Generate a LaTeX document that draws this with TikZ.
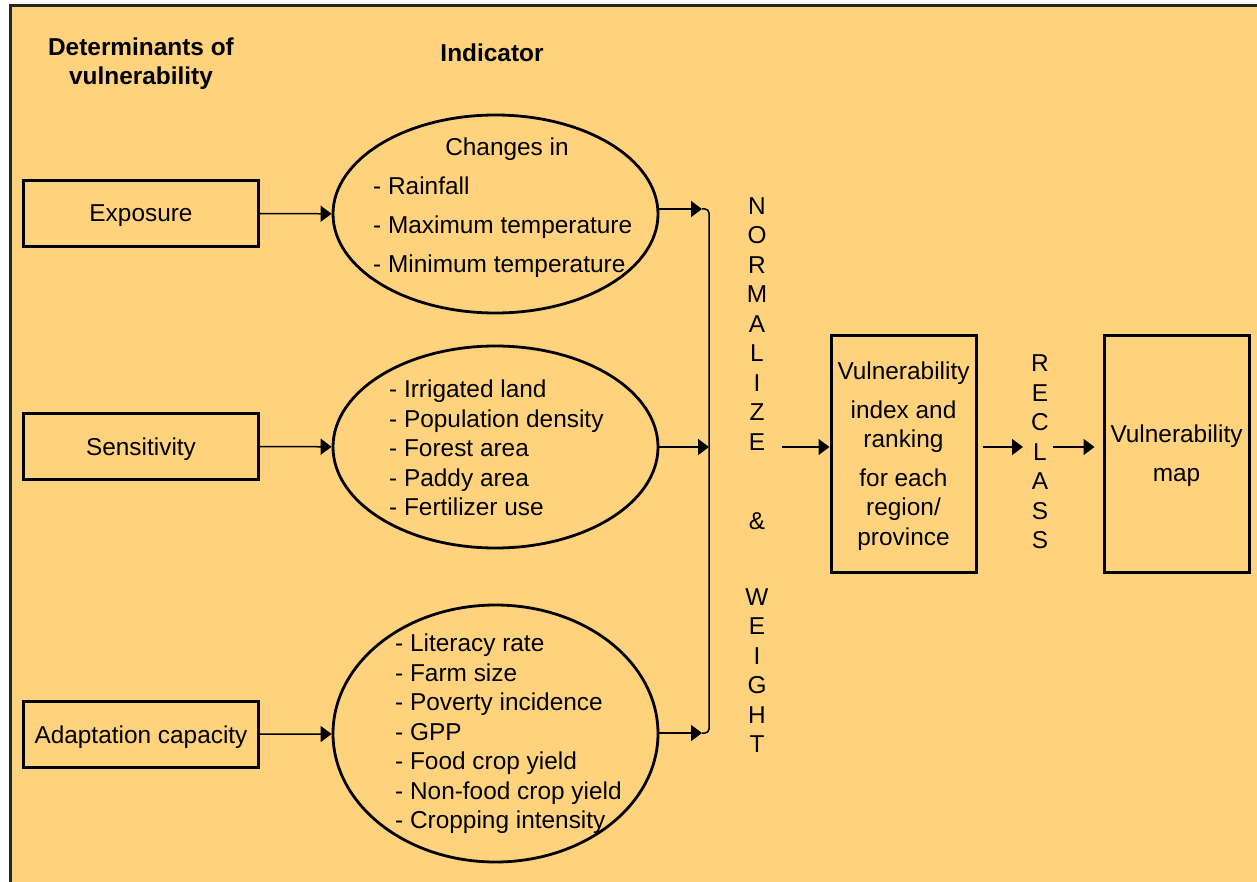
\documentclass[tikz,border=0pt]{standalone}
\usepackage{fontspec}
\setmainfont{Liberation Sans}
\usetikzlibrary{arrows.meta, shapes.geometric}

\definecolor{panel}{RGB}{255,211,125}
\newcommand{\diagfont}{\fontsize{24.4}{29.5}\selectfont}
\newcommand{\widefont}{\fontsize{24.4}{39}\selectfont}

\begin{document}
\begin{tikzpicture}[
    x=1pt, y=-1pt,
    font=\diagfont,
    >={Triangle[length=11pt,width=16pt]},
    determinant/.style={rectangle,draw,line width=3pt,minimum width=235pt,minimum height=66pt,inner sep=0pt,text depth=0pt},
    indicator/.style={ellipse,draw,line width=2.8pt,minimum width=325pt,inner sep=0pt},
    stage/.style={rectangle,draw,line width=3pt,minimum width=145pt,minimum height=237pt,align=center,inner sep=0pt,text depth=0pt},
    invisible/.style={rectangle,inner sep=0pt},
    flow/.style={->,line width=1.5pt}]

        \useasboundingbox (0,0) rectangle (1257,882);
        \draw[line width=3pt, draw=black!85, fill=panel] (10,6) rectangle (1280,900);

        \node[invisible, align=center, font=\diagfont\bfseries, anchor=base] (detlabel) at (141,85)
            {Determinants of\\vulnerability};

        \node[invisible, font=\diagfont\bfseries, anchor=base] (indlabel) at (492,62)
            {Indicator};

        \node[determinant] (expo) at (141,213.5) {Exposure};
        \node[determinant] (sens) at (141,446.5) {Sensitivity};
        \node[determinant] (adap) at (141,734.5) {Adaptation capacity};

        \node[indicator, minimum height=198pt] (ind1) at (495.5,214) {};
        \node[indicator, minimum height=202pt] (ind2) at (495.5,447) {};
        \node[indicator, minimum height=257pt] (ind3) at (495.5,733.5) {};

        \node[invisible, anchor=base] (changes) at (507,155.5) {Changes in};

        \node[invisible, anchor=base west, align=left, font=\widefont] (ind1list) at (373,272.7)
            {- Rainfall\\- Maximum temperature\\- Minimum temperature};

        \node[invisible, anchor=base west, align=left] (ind2list) at (389,515.7)
            {- Irrigated land\\- Population density\\- Forest area\\- Paddy area\\- Fertilizer use};

        \node[invisible, anchor=base west, align=left] (ind3list) at (395,828.7)
            {- Literacy rate\\- Farm size\\- Poverty incidence\\- GPP\\- Food crop yield\\- Non-food crop yield\\- Cropping intensity};

        \node[invisible, anchor=base, align=center] (normw) at (757,752.7)
            {N\\O\\R\\M\\A\\L\\I\\Z\\E\\[49.5pt]\&\\[46.5pt]W\\E\\I\\G\\H\\T};

        \node[stage] (vidx) at (903.5,453.5)
            {Vulnerability\\[9pt]index and\\ranking\\[9pt]for each\\region/\\province};

        \node[invisible, anchor=base, align=center] (reclass) at (1040,548.7)
            {R\\E\\C\\L\\A\\S\\S};

        \node[stage, font=\widefont] (vmap) at (1176.5,453.5)
            {Vulnerability\\map};

        \draw[flow] (expo) -- (ind1);
        \draw[flow] (sens) -- (ind2);
        \draw[flow] (adap) -- (ind3);

        \coordinate (bus1) at (702,209);
        \coordinate (bus2) at (709,447);
        \coordinate (bus3) at (702,733);
        \coordinate (flowrow) at (0,447);

        \draw[line width=1.5pt, rounded corners=4pt] (bus1) -| (bus2) |- (bus3);
        \draw[flow] (ind1.east |- bus1) -- (bus1);
        \draw[flow] (ind2) -- (bus2);
        \draw[flow] (ind3.east |- bus3) -- (bus3);

        \draw[flow, shorten <=13pt] (normw.east |- flowrow) -- (vidx.west |- flowrow);
        \draw[flow, shorten <=5pt, shorten >=8pt] (vidx.east |- flowrow) -- (reclass.west |- flowrow);
        \draw[flow, shorten <=4pt, shorten >=8pt] (reclass.east |- flowrow) -- (vmap.west |- flowrow);

    \end{tikzpicture}
\end{document}
